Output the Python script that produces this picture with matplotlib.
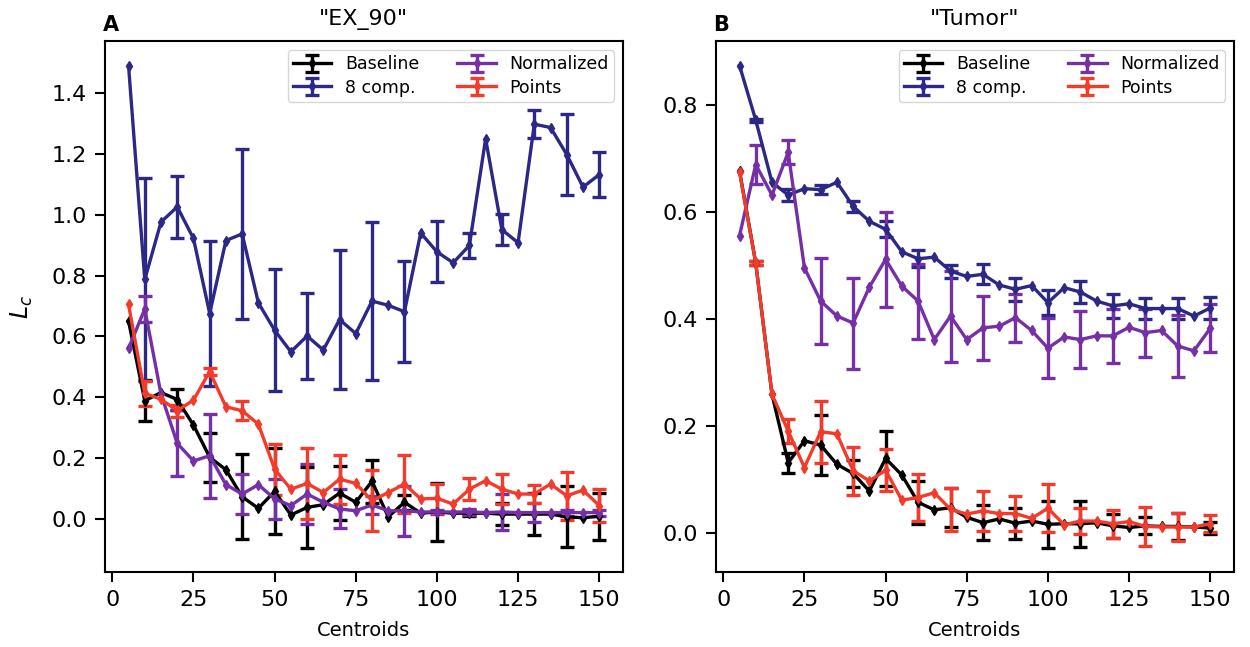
import matplotlib
matplotlib.use("Agg")
import matplotlib.pyplot as plt
import numpy as np

# Number of centroids
centroids = np.arange(5, 155, 5)

# ---------------------------
# "EX_90" results
# ---------------------------
ex_baseline = [0.650, 0.388, 0.415, 0.392, 0.308, 0.202, 0.161, 0.072, 0.034, 0.090,
               0.012, 0.037, 0.046, 0.084, 0.054, 0.123, 0.006, 0.054, 0.018, 0.022,
               0.018, 0.018, 0.018, 0.015, 0.015, 0.015, 0.015, 0.006, 0.003, 0.008]
ex_baseline_err = [0.067, 0.033, 0.081, 0.140, 0.141, 0.133, 0.088, 0.070,
                   0.025, 0.096, 0.010, 0.035, 0.070, 0.100, 0.077]
ex_8comp = [1.491, 0.787, 0.976, 1.026, 0.922, 0.675, 0.915, 0.937, 0.710, 0.620,
            0.549, 0.601, 0.555, 0.655, 0.609, 0.716, 0.702, 0.681, 0.940, 0.878,
            0.842, 0.899, 1.250, 0.951, 0.908, 1.298, 1.287, 1.198, 1.091, 1.132]
ex_8comp_err = [0.334, 0.101, 0.240, 0.280, 0.200, 0.140, 0.230, 0.260,
                0.166, 0.100, 0.040, 0.052, 0.047, 0.133, 0.074]
ex_norm = [0.560, 0.690, 0.410, 0.248, 0.190, 0.207, 0.112, 0.081, 0.112, 0.065,
           0.043, 0.081, 0.054, 0.032, 0.026, 0.045, 0.026, 0.026, 0.022, 0.022,
           0.022, 0.022, 0.020, 0.022, 0.020, 0.020, 0.020, 0.020, 0.020, 0.020]
ex_norm_err = [0.044, 0.108, 0.138, 0.066, 0.066, 0.100, 0.064, 0.030,
               0.082, 0.008, 0.010, 0.060, 0.030, 0.010, 0.010]
ex_points = [0.705, 0.412, 0.393, 0.355, 0.390, 0.484, 0.368, 0.355, 0.311, 0.163,
             0.097, 0.116, 0.086, 0.130, 0.116, 0.059, 0.086, 0.114, 0.065, 0.067,
             0.048, 0.097, 0.125, 0.097, 0.081, 0.081, 0.114, 0.075, 0.094, 0.043]
ex_points_err = [0.040, 0.020, 0.012, 0.032, 0.084, 0.118, 0.081, 0.100,
                 0.096, 0.047, 0.037, 0.050, 0.030, 0.080, 0.055]

# ---------------------------
# "Tumor" results
# ---------------------------
tu_baseline = [0.676, 0.504, 0.259, 0.131, 0.172, 0.164, 0.128, 0.111, 0.078, 0.139,
               0.108, 0.057, 0.043, 0.047, 0.029, 0.019, 0.026, 0.018, 0.022, 0.016,
               0.017, 0.017, 0.019, 0.013, 0.010, 0.013, 0.012, 0.012, 0.011, 0.009]
tu_baseline_err = [0.003, 0.019, 0.056, 0.025, 0.052, 0.040, 0.037, 0.033,
                   0.029, 0.044, 0.043, 0.022, 0.016, 0.025, 0.012]
tu_8comp = [0.873, 0.771, 0.655, 0.631, 0.643, 0.641, 0.655, 0.610, 0.582, 0.567,
            0.525, 0.512, 0.515, 0.489, 0.479, 0.483, 0.463, 0.455, 0.462, 0.430,
            0.458, 0.450, 0.433, 0.424, 0.428, 0.419, 0.419, 0.419, 0.405, 0.420]
tu_8comp_err = [0.003, 0.011, 0.008, 0.010, 0.015, 0.016, 0.012, 0.019,
                0.021, 0.023, 0.021, 0.022, 0.019, 0.020, 0.020]
tu_norm = [0.555, 0.688, 0.631, 0.711, 0.495, 0.433, 0.405, 0.392, 0.459, 0.511,
           0.461, 0.433, 0.361, 0.405, 0.361, 0.383, 0.386, 0.402, 0.378, 0.345,
           0.366, 0.361, 0.368, 0.368, 0.384, 0.374, 0.378, 0.349, 0.340, 0.382]
tu_norm_err = [0.037, 0.022, 0.080, 0.085, 0.089, 0.070, 0.085, 0.060,
               0.045, 0.056, 0.053, 0.050, 0.045, 0.058, 0.045]
tu_points = [0.674, 0.504, 0.259, 0.190, 0.122, 0.189, 0.185, 0.116, 0.097, 0.117,
             0.061, 0.066, 0.075, 0.044, 0.035, 0.041, 0.036, 0.036, 0.027, 0.046,
             0.015, 0.022, 0.022, 0.017, 0.021, 0.012, 0.011, 0.011, 0.011, 0.017]
tu_points_err = [0.003, 0.023, 0.058, 0.045, 0.039, 0.044, 0.040, 0.037,
                 0.032, 0.045, 0.024, 0.026, 0.037, 0.027, 0.016]

labels = ["Baseline", "8 comp.", "Normalized", "Points"]
colors = ["black", "#2b2886", "#7530a6", "#f33b2c"]

panels = [
    ("A", '"EX_90"', [ex_baseline, ex_8comp, ex_norm, ex_points],
     [ex_baseline_err, ex_8comp_err, ex_norm_err, ex_points_err]),
    ("B", '"Tumor"', [tu_baseline, tu_8comp, tu_norm, tu_points],
     [tu_baseline_err, tu_8comp_err, tu_norm_err, tu_points_err]),
]

plt.rcParams["font.family"] = "DejaVu Sans"

fig, axes = plt.subplots(1, 2, figsize=(12.5, 6.47), dpi=100)
fig.subplots_adjust(left=0.084, right=0.987, top=0.936, bottom=0.116, wspace=0.18)

for ax, (letter, title, series, errors) in zip(axes, panels):
    for vals, err, lab, col in zip(series, errors, labels, colors):
        # error bars only on every second centroid count (10, 20, ...)
        yerr = np.zeros(len(centroids))
        yerr[1::2] = err
        ax.errorbar(centroids, vals, yerr=yerr, errorevery=(1, 2),
                    color=col, label=lab, marker="d", markersize=5,
                    linewidth=2.4, elinewidth=2.4, capsize=5, capthick=2.4)
    ax.set_title(title, fontsize=16, pad=12)
    ax.text(-0.005, 1.012, letter, transform=ax.transAxes, fontsize=15,
            fontweight="bold", ha="left", va="bottom")
    ax.set_xlabel("Centroids", fontsize=14, labelpad=8)
    ax.set_xticks([0, 25, 50, 75, 100, 125, 150])
    ax.tick_params(labelsize=16, length=7, width=1.5, pad=6)
    for s in ax.spines.values():
        s.set_linewidth(1.5)
    ax.legend(ncol=2, loc="upper right", fontsize=12.5, handlelength=2.2,
              columnspacing=2.2, borderpad=0.3, labelspacing=0.3)

axes[0].set_ylabel(r"$L_c$", fontsize=17, labelpad=12)
axes[0].set_yticks([0.0, 0.2, 0.4, 0.6, 0.8, 1.0, 1.2, 1.4])
axes[1].set_yticks([0.0, 0.2, 0.4, 0.6, 0.8])

plt.savefig("out.png", dpi=100)
